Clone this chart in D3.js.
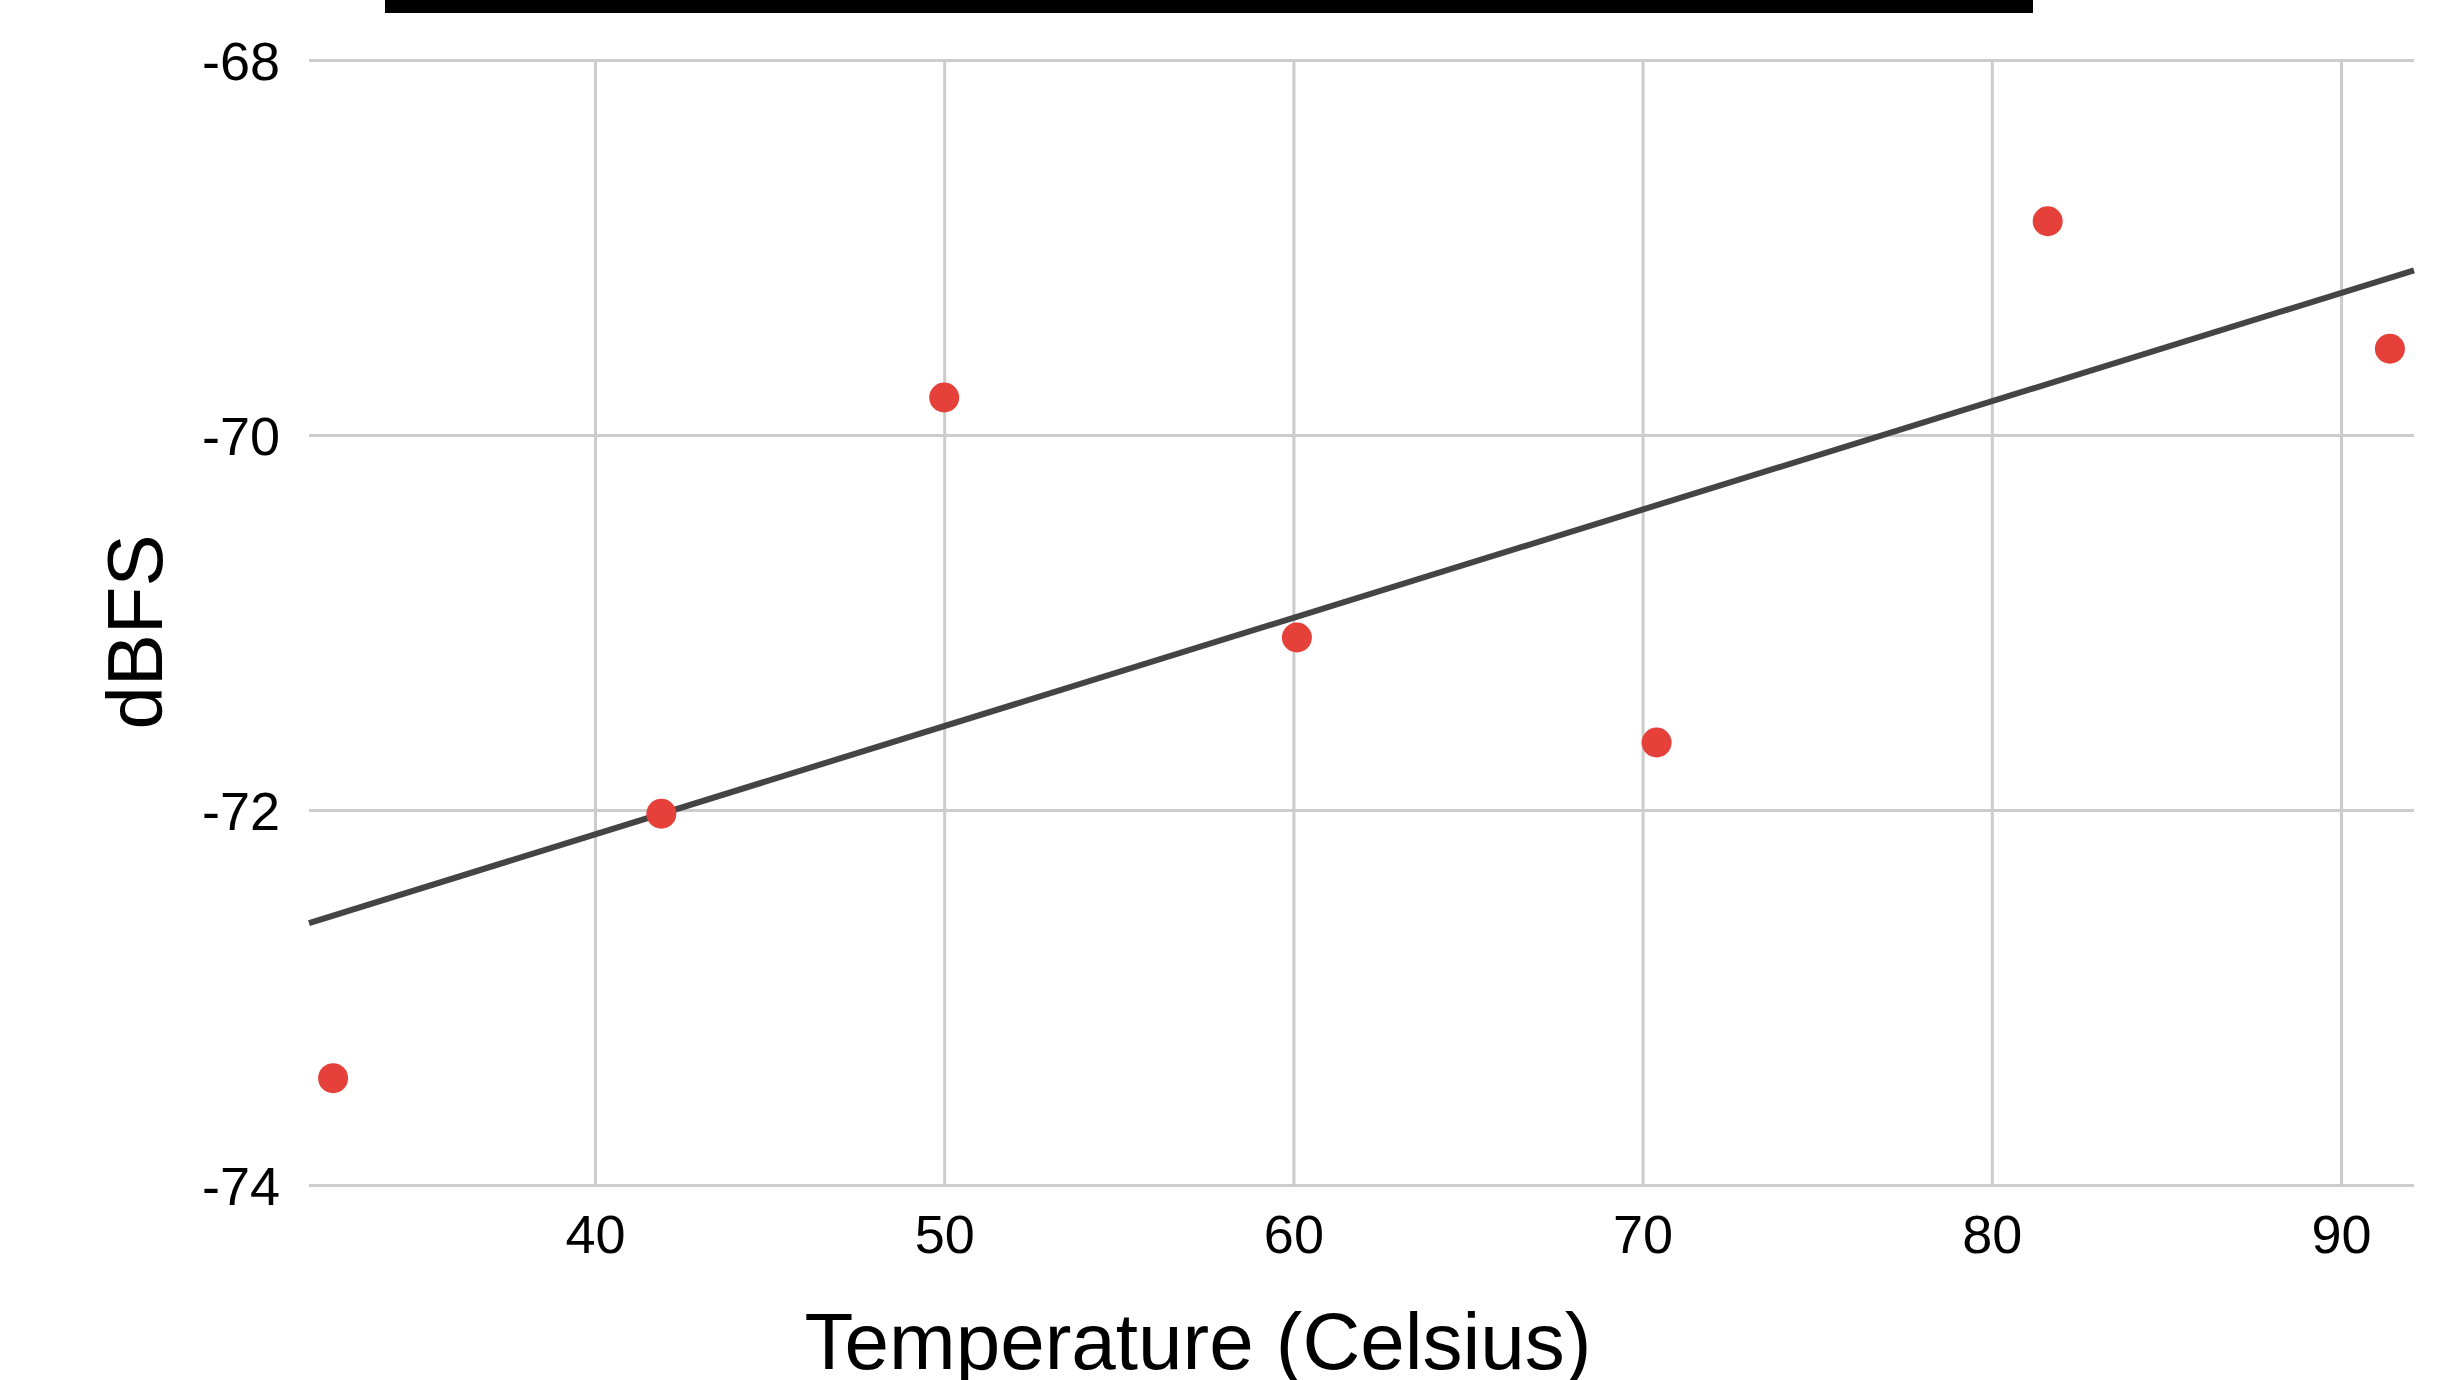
<!DOCTYPE html>
<html>
<head>
<meta charset="utf-8">
<script src="https://cdn.jsdelivr.net/npm/d3@7"></script>
<style>
  html, body { margin: 0; padding: 0; background: #ffffff; }
  svg { display: block; }
  text { font-family: "Liberation Sans", Arial, sans-serif; fill: #000; }
</style>
</head>
<body>
<svg id="chart" width="2462" height="1380"></svg>
<script>
// ---- Data ----
const temperatures = [32.5, 41.9, 50.0, 60.1, 70.4, 81.6, 91.4];
const dbfsValues   = [-73.43, -72.02, -69.80, -71.08, -71.64, -68.86, -69.54];
const xTickValues  = [40, 50, 60, 70, 80, 90];
const yTickValues  = [-68, -70, -72, -74];
const xDomain = [31.81, 92.09];
const yDomain = [-74, -68];
const xAxisTitle = "Temperature (Celsius)";
const yAxisTitle = "dBFS";

// ---- Layout ----
const W = 2462, H = 1380;
const plot = { left: 309, right: 2414, top: 60, bottom: 1185 };

const svg = d3.select("#chart");

const x = d3.scaleLinear().domain(xDomain).range([plot.left, plot.right]);
const y = d3.scaleLinear().domain(yDomain).range([plot.bottom, plot.top]);

// Title underline (title text itself is cropped out of the frame)
svg.append("rect")
  .attr("x", 385).attr("y", 0)
  .attr("width", 2033 - 385).attr("height", 13)
  .attr("fill", "#000");

// Horizontal gridlines + y tick labels
const yAxis = d3.axisLeft(y)
  .tickValues(yTickValues)
  .tickSize(-(plot.right - plot.left))
  .tickPadding(29)
  .tickFormat(d3.format("d"));
const gy = svg.append("g")
  .attr("transform", `translate(${plot.left},0)`)
  .call(yAxis);
gy.select(".domain").remove();
gy.selectAll(".tick line").attr("stroke", "#cccccc").attr("stroke-width", 3);
gy.selectAll(".tick text")
  .attr("font-size", 54)
  .attr("font-family", "Liberation Sans, Arial, sans-serif")
  .attr("fill", "#000")
  .attr("dy", "0.36em")
  .text(d => d3.format("d")(d).replace("−", "-"));

// Vertical gridlines + x tick labels
const xAxis = d3.axisBottom(x)
  .tickValues(xTickValues)
  .tickSize(-(plot.bottom - plot.top))
  .tickPadding(30);
const gx = svg.append("g")
  .attr("transform", `translate(0,${plot.bottom})`)
  .call(xAxis);
gx.select(".domain").remove();
gx.selectAll(".tick line").attr("stroke", "#cccccc").attr("stroke-width", 3);
gx.selectAll(".tick text")
  .attr("font-size", 54)
  .attr("font-family", "Liberation Sans, Arial, sans-serif")
  .attr("fill", "#000")
  .attr("dy", "0.71em");

// Linear trendline (least squares fit of the data)
const n = temperatures.length;
const mx = d3.mean(temperatures), my = d3.mean(dbfsValues);
let sxy = 0, sxx = 0;
for (let i = 0; i < n; i++) {
  sxy += (temperatures[i] - mx) * (dbfsValues[i] - my);
  sxx += (temperatures[i] - mx) ** 2;
}
const slope = sxy / sxx;
const intercept = my - slope * mx;
const trend = xDomain.map(t => [t, intercept + slope * t]);

svg.append("path")
  .datum(trend)
  .attr("fill", "none")
  .attr("stroke", "#444444")
  .attr("stroke-width", 6)
  .attr("d", d3.line().x(d => x(d[0])).y(d => y(d[1])));

// Points
svg.append("g")
  .selectAll("circle")
  .data(temperatures.map((t, i) => ({ t, v: dbfsValues[i] })))
  .join("circle")
  .attr("cx", d => x(d.t))
  .attr("cy", d => y(d.v))
  .attr("r", 15)
  .attr("fill", "#e5403a");

// Axis titles
svg.append("text")
  .attr("x", 1198).attr("y", 1369)
  .attr("text-anchor", "middle")
  .attr("font-size", 80)
  .text(xAxisTitle);

svg.append("text")
  .attr("transform", "translate(162,632) rotate(-90)")
  .attr("text-anchor", "middle")
  .attr("font-size", 78)
  .text(yAxisTitle);
</script>
</body>
</html>
